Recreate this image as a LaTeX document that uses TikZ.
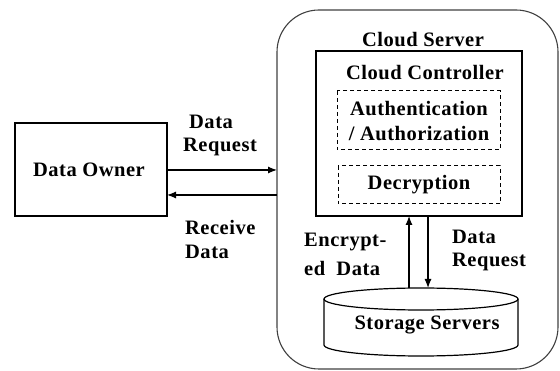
\documentclass[tikz,border=0pt]{standalone}
\usepackage{fontspec}
\setmainfont{Liberation Serif}
\usetikzlibrary{arrows.meta,shapes.geometric}
\begin{document}
\begin{tikzpicture}[x=1pt,y=-1pt,
  every node/.style={font=\fontsize{20.5}{24}\selectfont\bfseries\addfontfeature{LetterSpace=2.5}, inner sep=0pt},
  box/.style={draw, line width=1.3pt},
  dbox/.style={draw, dashed, line width=1pt, dash pattern=on 4pt off 3pt},
  arr/.style={line width=1.2pt, -{Latex[length=9pt,width=7pt]}},
  lbl/.style={align=left, text depth=0pt}]
\useasboundingbox (0,0) rectangle (560,371);
% Cloud server
\draw[line width=1.1pt, rounded corners=42pt, draw=black!75] (277,10) rectangle (558,369);
\node (cs) at (423,40) {Cloud Server};
% Data owner
\draw[box] (15,123) rectangle (167,216);
\node (do) at (89,170) {Data Owner};
\coordinate (doE1) at (167,170);
\coordinate (doE2) at (167,195);
\coordinate (csW1) at (277,170);
\coordinate (csW2) at (277,195);
% Controller
\draw[box] (316,51) rectangle (522,216);
\node (cc) at (425,73) {Cloud Controller};
\draw[dbox] (337,91) rectangle (500,150);
\node at (419,109) {Authentication};
\node at (419,134) {/ Authorization};
\draw[dbox] (338,166) rectangle (500,204);
\node at (419,185) {Decryption};
% cylinder
\draw[line width=1.2pt, fill=white] (324,299) -- (324,345) arc[start angle=180,end angle=360,x radius=97pt,y radius=11pt] -- (518,299);
\draw[line width=1.2pt] (421,299) ellipse[x radius=97pt, y radius=11pt];
\node at (427,325) {Storage Servers};
% arrows
\draw[arr] (doE1) -- (csW1);
\draw[arr] (csW2) -- (doE2);
\draw[arr] (409,288) -- (409,216);
\draw[arr] (428,216) -- (428,288);
% labels
\node[anchor=west] at (189,122) {Data};
\node[anchor=west] at (183,147) {Request};
\node[anchor=west] at (185,227) {Receive};
\node[anchor=west] at (185,252) {Data};
\node[anchor=west] at (304,242) {Encrypt-};
\node[anchor=west] at (304,268) {ed\ \ Data};
\node[anchor=west] at (452,237) {Data};
\node[anchor=west] at (452,262) {Request};
\end{tikzpicture}
\end{document}
